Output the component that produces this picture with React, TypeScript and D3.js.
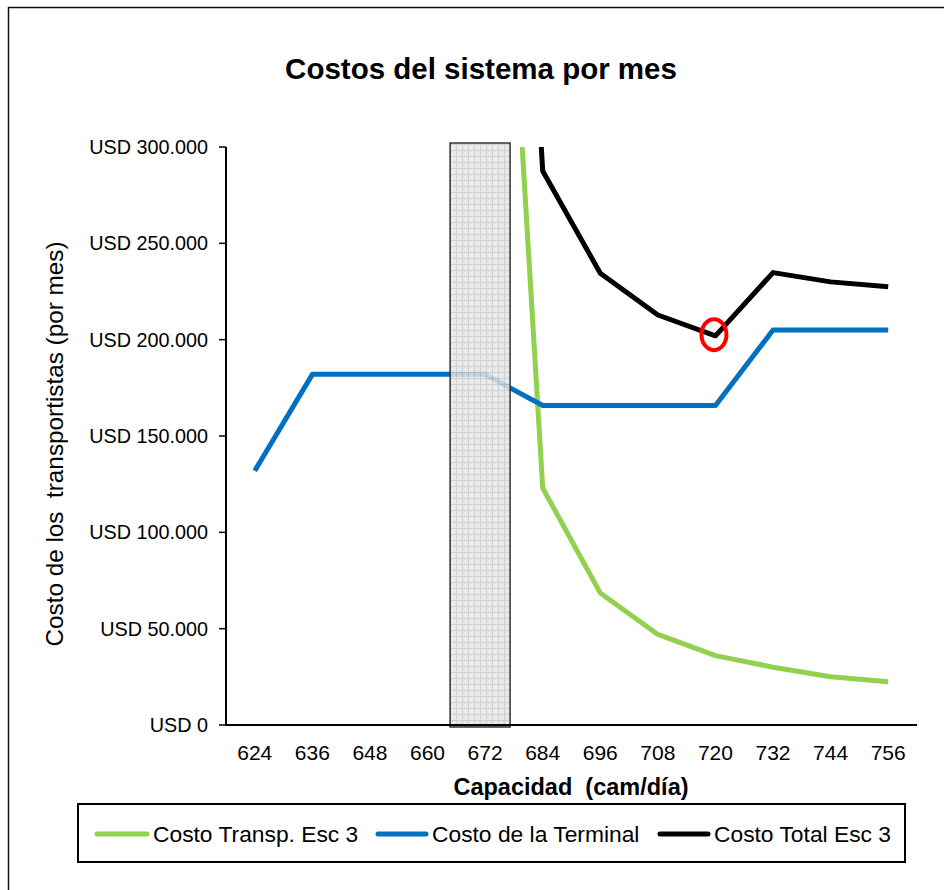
import React from "react";
import * as d3 from "d3";

const capacities = [624, 636, 648, 660, 672, 684, 696, 708, 720, 732, 744, 756];
const transpCost: (number | null)[] = [null, null, null, null, 620000, 123000, 68500, 47000, 36000, 30000, 25000, 22500];
const terminalCost: (number | null)[] = [132000, 182000, 182000, 182000, 182000, 165800, 165800, 165800, 165800, 205000, 205000, 205000];
const totalCost: (number | null)[] = [null, null, null, null, 800000, 287500, 234500, 212800, 202000, 234800, 230000, 227500];
const yTicks = [0, 50000, 100000, 150000, 200000, 250000, 300000];
const highlightRange = [664.7, 677.2];
const optimum = { cap: 720, value: 202600 };

const seriesNames = ["Costo Transp. Esc 3", "Costo de la Terminal", "Costo Total Esc 3"];
const seriesColors = ["#92D050", "#0070C0", "#000000"];

const FONT = "'Liberation Sans', Arial, sans-serif";

export default function App() {
  const W = 944, H = 890;
  const left = 226, right = 917, top = 147, bottom = 725;

  const x = d3.scaleBand<number>().domain(capacities).range([left, right]).padding(0);
  const bw = x.bandwidth();
  const cx = (c: number) => (x(c) as number) + bw / 2;
  const xLin = d3.scaleLinear().domain([capacities[0], capacities[1]]).range([cx(capacities[0]), cx(capacities[1])]);
  const y = d3.scaleLinear().domain([0, 300000]).range([bottom, top]);

  const line = d3
    .line<number | null>()
    .defined((d) => d !== null)
    .x((_, i) => cx(capacities[i]))
    .y((d) => y(d as number));

  const series = [transpCost, terminalCost, totalCost];
  const fmt = (v: number) => "USD " + d3.format(",")(v).replace(/,/g, ".");

  const legendItems = [
    { lx1: 97, lx2: 147, tx: 153 },
    { lx1: 378, lx2: 426, tx: 432 },
    { lx1: 660, lx2: 708, tx: 714 },
  ];

  return (
    <svg width={W} height={H} style={{ position: "absolute", left: 0, top: 0 }} fontFamily={FONT}>
      <defs>
        <clipPath id="plotClip">
          <rect x={left} y={top} width={right - left} height={bottom - top} />
        </clipPath>
        <pattern id="hatch" width="6" height="6" patternUnits="userSpaceOnUse">
          <rect width="6" height="6" fill="#e4e4e4" />
          <rect x="0" y="0" width="6" height="1" fill="#c8c8c8" />
          <rect x="0" y="0" width="1" height="6" fill="#c8c8c8" />
          <rect x="3" y="3" width="1" height="1" fill="#f4f4f4" />
        </pattern>
      </defs>
      <rect x={0} y={0} width={W} height={H} fill="#fff" />
      <rect x={8.5} y={7.5} width={1000} height={1000} fill="none" stroke="#111" strokeWidth={1.5} />

      <text x={481} y={79} textAnchor="middle" fontWeight="bold" fontSize={29.5} fill="#000">
        Costos del sistema por mes
      </text>

      {/* series lines */}
      <g clipPath="url(#plotClip)">
        {series.map((s, i) => (
          <path key={i} d={line(s) || ""} fill="none" stroke={seriesColors[i]} strokeWidth={5} strokeLinejoin="round" />
        ))}
      </g>

      {/* highlighted range */}
      <rect
        x={xLin(highlightRange[0])}
        y={top - 4}
        width={xLin(highlightRange[1]) - xLin(highlightRange[0])}
        height={bottom - top + 6}
        fill="url(#hatch)"
        fillOpacity={0.85}
        stroke="#333"
        strokeWidth={1.5}
      />

      {/* optimum marker */}
      <ellipse cx={cx(optimum.cap) - 1.5} cy={y(optimum.value)} rx={12.5} ry={15.5} fill="none" stroke="#FF0000" strokeWidth={4} />

      {/* axes */}
      <line x1={left} x2={left} y1={top} y2={bottom} stroke="#000" strokeWidth={2} />
      <line x1={left - 1} x2={right} y1={bottom} y2={bottom} stroke="#000" strokeWidth={2} />
      {yTicks.map((t) => (
        <g key={t}>
          <line x1={left - 7} x2={left} y1={y(t)} y2={y(t)} stroke="#000" strokeWidth={1.5} />
          <text x={208} y={y(t)} dy="0.35em" textAnchor="end" fontSize={19.8} fill="#000">
            {fmt(t)}
          </text>
        </g>
      ))}
      {capacities.map((c) => (
        <text key={c} x={cx(c)} y={760} textAnchor="middle" fontSize={21} fill="#000">
          {c}
        </text>
      ))}

      <text x={571} y={795} textAnchor="middle" fontWeight="bold" fontSize={23.5} fill="#000" style={{ whiteSpace: "pre" }}>
        {"Capacidad  (cam/día)"}
      </text>
      <text
        transform={`translate(63, 444) rotate(-90)`}
        textAnchor="middle"
        fontSize={24.3}
        fill="#000"
        style={{ whiteSpace: "pre" }}
      >
        {"Costo de los  transportistas (por mes)"}
      </text>

      {/* legend */}
      <rect x={78} y={804} width={827} height={58} fill="#fff" stroke="#000" strokeWidth={2} />
      {legendItems.map((it, i) => (
        <g key={i}>
          <line x1={it.lx1} x2={it.lx2} y1={834} y2={834} stroke={seriesColors[i]} strokeWidth={5} strokeLinecap="round" />
          <text x={it.tx} y={842} fontSize={22.8} fill="#000">
            {seriesNames[i]}
          </text>
        </g>
      ))}
    </svg>
  );
}
